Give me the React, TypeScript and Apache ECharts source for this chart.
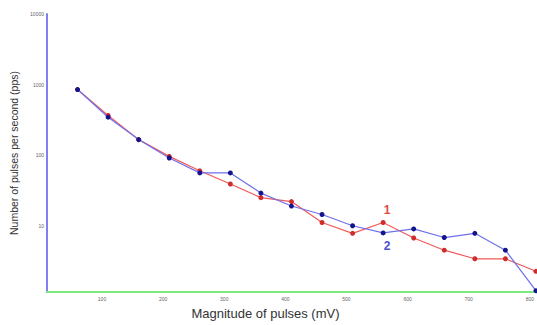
import React, { useEffect, useRef } from "react";
import * as echarts from "echarts";

const xValues = [60, 110, 160, 210, 260, 310, 360, 410, 460, 510, 560, 610, 660, 710, 760, 810];
const series1 = [850, 365, 166, 96, 60, 39, 25, 22, 11.1, 7.8, 11.1, 6.7, 4.5, 3.4, 3.4, 2.26];
const series2 = [850, 345, 166, 91, 56, 56, 29, 19, 14.4, 10, 7.9, 9.0, 6.8, 7.8, 4.5, 1.2];
const xTickLabels = [100, 200, 300, 400, 500, 600, 700, 800];
const yTickLabels = [10, 100, 1000, 10000];
const labelIndex = 10;

export default function App() {
  const ref = useRef<HTMLDivElement>(null);
  useEffect(() => {
    if (!ref.current) return;
    const chart = echarts.init(ref.current, undefined, { renderer: "svg" });
    const mk = (vals: number[], name: string, pos: string) =>
      vals.map((v, i) => {
        const item: any = { value: [xValues[i], v] };
        if (i === labelIndex) {
          item.label = {
            show: true,
            formatter: name,
            position: pos,
            distance: pos === "top" ? 4 : 5,
            offset: [4, 0],
            fontSize: 12,
            fontWeight: "bold",
            fontFamily: "Liberation Sans, Arial, sans-serif",
          };
        }
        return item;
      });
    chart.setOption({
      animation: false,
      backgroundColor: "#ffffff",
      grid: { left: 47, right: -3, top: 14, bottom: 31, containLabel: false },
      xAxis: {
        type: "value",
        min: 10,
        max: 810,
        name: "Magnitude of pulses (mV)",
        nameLocation: "middle",
        nameGap: 15,
        nameTextStyle: {
          fontSize: 13,
          color: "#333333",
          fontFamily: "Liberation Sans, Arial, sans-serif",
          padding: [0, 52, 0, 0],
        },
        axisLine: { show: true, lineStyle: { color: "#7ee87e", width: 2 } },
        axisTick: { show: false },
        splitLine: { show: false },
        axisLabel: {
          customValues: xTickLabels,
          fontSize: 5,
          color: "#666666",
          margin: 4,
          fontFamily: "Liberation Sans, Arial, sans-serif",
        },
      },
      yAxis: {
        type: "log",
        logBase: 10,
        min: 1.15,
        max: 10000,
        name: "Number of pulses per second (pps)",
        nameLocation: "middle",
        nameGap: 18,
        nameTextStyle: {
          fontSize: 10.5,
          color: "#333333",
          fontFamily: "Liberation Sans, Arial, sans-serif",
        },
        axisLine: { show: true, lineStyle: { color: "#8080f0", width: 2 } },
        axisTick: { show: false },
        splitLine: { show: false },
        axisLabel: {
          customValues: yTickLabels,
          formatter: (v: number) => String(Math.round(v)),
          fontSize: 5,
          color: "#666666",
          margin: 3,
          fontFamily: "Liberation Sans, Arial, sans-serif",
        },
      },
      series: [
        {
          name: "1",
          type: "line",
          data: mk(series1, "1", "top"),
          symbol: "circle",
          symbolSize: 5,
          lineStyle: { color: "#f05a5a", width: 1.2 },
          itemStyle: { color: "#d02c2c" },
          label: { color: "#e04848" },
          z: 2,
        },
        {
          name: "2",
          type: "line",
          data: mk(series2, "2", "bottom"),
          symbol: "circle",
          symbolSize: 5,
          lineStyle: { color: "#7070ec", width: 1.2 },
          itemStyle: { color: "#14148c" },
          label: { color: "#5050d0" },
          z: 3,
        },
      ],
    });
    return () => chart.dispose();
  }, []);
  return <div ref={ref} style={{ width: 537, height: 325, position: "absolute", left: 0, top: 0 }} />;
}
